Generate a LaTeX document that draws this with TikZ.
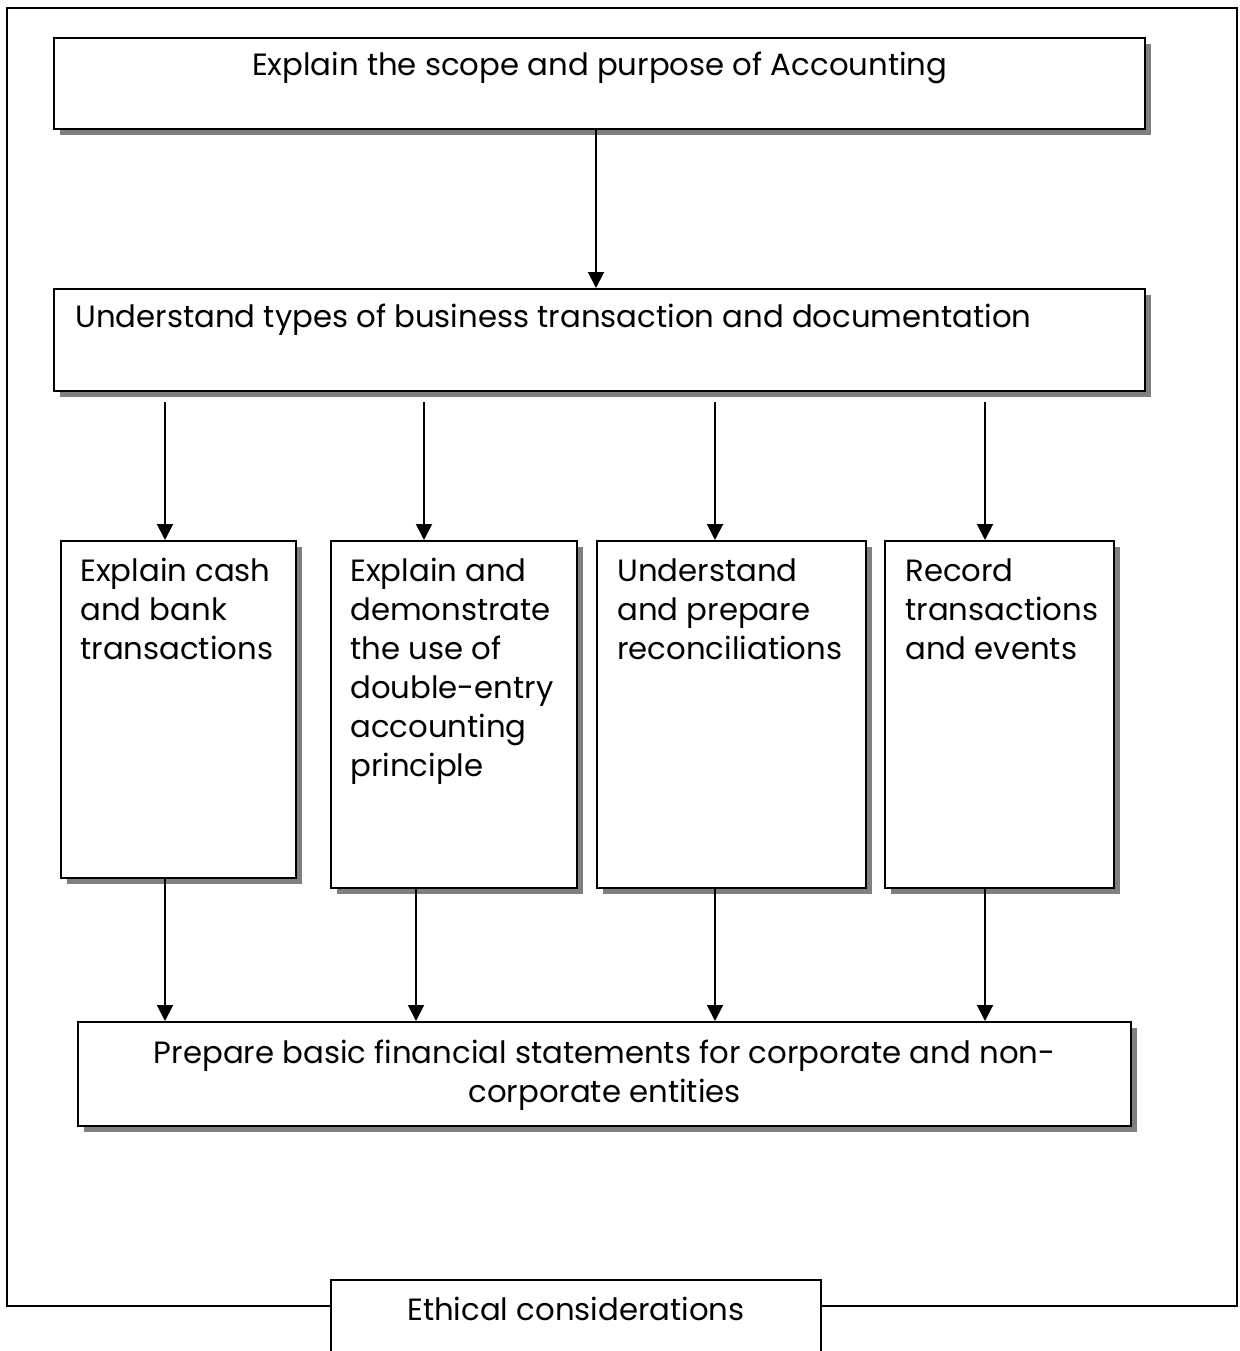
\documentclass[tikz,border=0pt]{standalone}
\usepackage{fontspec}
\setmainfont{Poppins}
\usetikzlibrary{arrows.meta,shadows,positioning}

\begin{document}
\begin{tikzpicture}
  \tikzstyle{stage}=[draw,line width=1.3pt,fill=white,anchor=north west,inner sep=0pt,
    drop shadow={shadow xshift=0.12cm,shadow yshift=-0.12cm,fill=black!50,opacity=1}]
  \tikzstyle{plain}=[draw,line width=1.1pt,fill=white,anchor=north west,inner sep=0pt]
  \tikzstyle{txt}=[inner sep=0pt,align=left,anchor=north west,font=\fontsize{17.5}{22.2}\selectfont]
  \tikzstyle{flow}=[line width=1.1pt,-{Triangle[width=0.32cm,length=0.32cm]}]
  \clip (0,0) rectangle (24.8,-27.02);

  % boxes
  \node[stage,minimum width=21.82cm,minimum height=1.82cm] (scope) at (1.06,-0.74) {};
  \node[stage,minimum width=21.82cm,minimum height=2.04cm] (types) at (1.06,-5.76) {};
  \node[stage,minimum width=4.7cm,minimum height=6.74cm] (cash) at (1.2,-10.8) {};
  \node[stage,minimum width=4.92cm,minimum height=6.94cm] (double) at (6.6,-10.8) {};
  \node[stage,minimum width=5.38cm,minimum height=6.94cm] (recon) at (11.92,-10.8) {};
  \node[stage,minimum width=4.58cm,minimum height=6.94cm] (record) at (17.68,-10.8) {};
  \node[stage,minimum width=21.06cm,minimum height=2.08cm] (fin) at (1.54,-20.42) {};

  % texts
  \node[txt,below=0.3cm of scope.north] (scopetxt) {Explain the scope and purpose of Accounting};
  \node[txt,below right=0.32cm and 0.44cm of types.north west] (typestxt)
    {Understand types of business transaction and documentation};
  \node[txt,below right=0.36cm and 0.4cm of cash.north west] (cashtxt)
    {Explain cash\\and bank\\transactions};
  \node[txt,below right=0.36cm and 0.4cm of double.north west] (doubletxt)
    {Explain and\\demonstrate\\the use of\\double-entry\\accounting\\principle};
  \node[txt,below right=0.36cm and 0.42cm of recon.north west] (recontxt)
    {Understand\\and prepare\\reconciliations};
  \node[txt,below right=0.36cm and 0.42cm of record.north west] (recordtxt)
    {Record\\transactions\\and events};
  \node[txt,align=center,below=0.38cm of fin.north] (fintxt)
    {Prepare basic financial statements for corporate and non-\\corporate entities};

  % frame with ethics tab
  \node[plain,minimum width=9.8cm,minimum height=2.2cm] (ethics) at (6.6,-25.58) {};
  \node[txt,below=0.36cm of ethics.north] (ethicstxt) {Ethical considerations};
  \coordinate (fb) at (0,-26.12);
  \draw[line width=1.1pt] (ethics.west |- fb) -- (0.14,-26.12) -- (0.14,-0.16)
    -- (24.74,-0.16) -- (24.74,-26.12) -- (ethics.east |- fb);

  % arrows
  \coordinate (a1) at (3.3,-8.04);
  \coordinate (a2) at (8.48,-8.04);
  \coordinate (a3) at (14.3,-8.04);
  \coordinate (a4) at (19.7,-8.04);
  \coordinate (b2) at (8.32,0);
  \draw[flow] (scope.south -| 11.92,0) -- (types.north -| 11.92,0);
  \draw[flow] (a1) -- (cash.north -| a1);
  \draw[flow] (a2) -- (double.north -| a2);
  \draw[flow] (a3) -- (recon.north -| a3);
  \draw[flow] (a4) -- (record.north -| a4);
  \draw[flow] (cash.south -| a1) -- (fin.north -| a1);
  \draw[flow] (double.south -| b2) -- (fin.north -| b2);
  \draw[flow] (recon.south -| a3) -- (fin.north -| a3);
  \draw[flow] (record.south -| a4) -- (fin.north -| a4);
\end{tikzpicture}
\end{document}
